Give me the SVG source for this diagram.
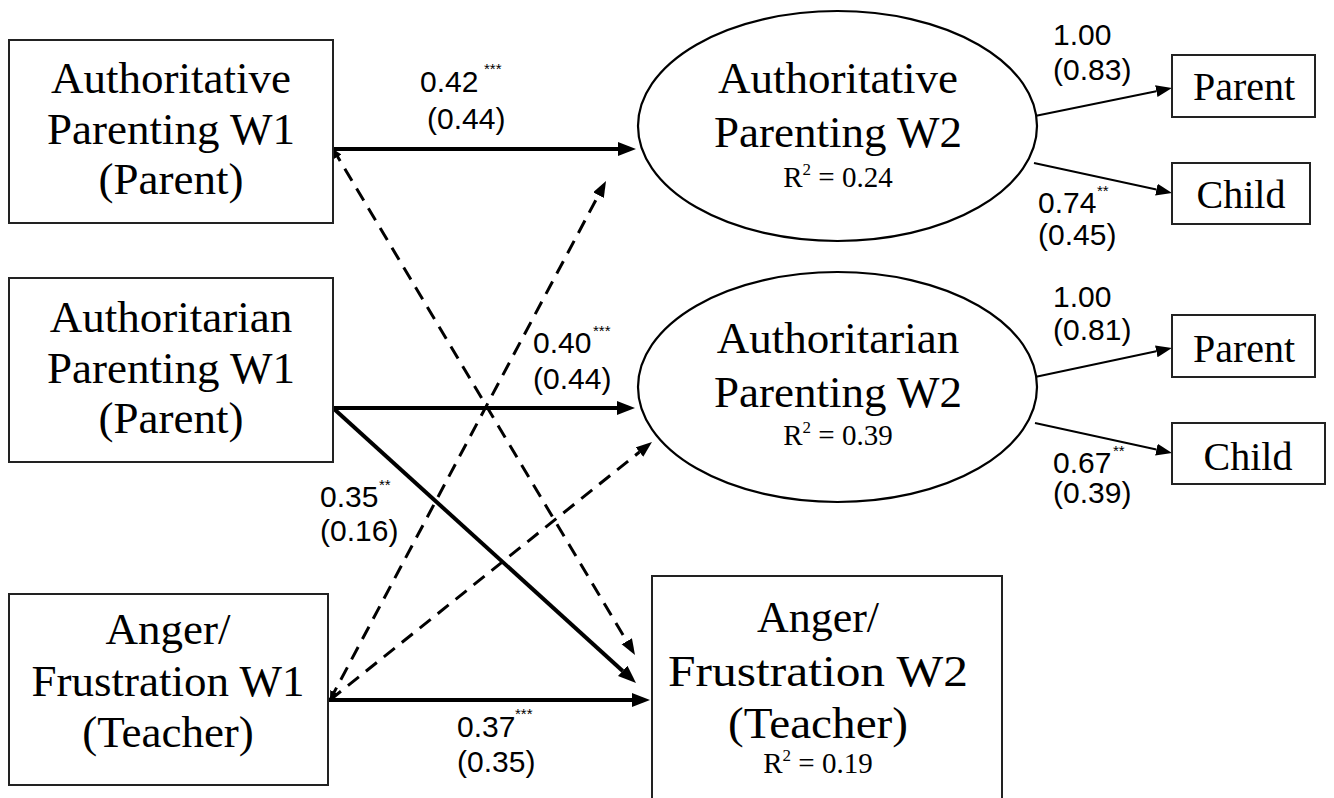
<svg xmlns="http://www.w3.org/2000/svg" width="1334" height="798" viewBox="0 0 1334 798">
<style>
.box{fill:#fff;stroke:#222;stroke-width:2}
.ell{fill:#fff;stroke:#000;stroke-width:2.2}
.t{font-family:"Liberation Serif","Times New Roman",serif;fill:#000;text-anchor:middle}
.big{font-size:45px}
.med{font-size:40px}
.r2{font-size:29px}
.sup{font-size:17px}
.n{font-family:"Liberation Sans",Arial,sans-serif;font-size:30px;fill:#000}
.st{font-family:"Liberation Sans",Arial,sans-serif;font-size:15px;fill:#000}
.solid{stroke:#000;stroke-width:4;fill:none}
.dash{stroke:#000;stroke-width:3;fill:none;stroke-dasharray:14 9}
.thin{stroke:#000;stroke-width:2;fill:none}
</style>
<defs>
<marker id="ah" markerUnits="userSpaceOnUse" markerWidth="20" markerHeight="16" refX="0" refY="7" orient="auto"><path d="M0,0 L18,7 L0,14 z" fill="#000"/></marker>
<marker id="ahd" markerUnits="userSpaceOnUse" markerWidth="18" markerHeight="14" refX="0" refY="6" orient="auto"><path d="M0,0 L16,6 L0,12 z" fill="#000"/></marker>
<marker id="ahs" markerUnits="userSpaceOnUse" markerWidth="12" markerHeight="10" refX="9" refY="4.5" orient="auto-start-reverse"><path d="M0,0 L9,4.5 L0,9 z" fill="#000"/></marker>
<marker id="aht" markerUnits="userSpaceOnUse" markerWidth="18" markerHeight="14" refX="0" refY="6" orient="auto"><path d="M0,0 L16,6 L0,12 z" fill="#000"/></marker>
</defs>

<g id="connectors">
<line class="solid" x1="333" y1="149" x2="618" y2="149" marker-end="url(#ah)"/>
<line class="solid" x1="333" y1="408" x2="617" y2="408" marker-end="url(#ah)"/>
<line class="solid" x1="333" y1="408" x2="622.7" y2="670.9" marker-end="url(#ah)"/>
<line class="solid" x1="328" y1="700" x2="632" y2="700" marker-end="url(#ah)"/>
<line class="dash" x1="333" y1="149" x2="626.8" y2="641.3" marker-end="url(#ahd)" marker-start="url(#ahs)"/>
<line class="dash" x1="330" y1="700" x2="598.5" y2="195.1" marker-end="url(#ahd)" marker-start="url(#ahs)"/>
<line class="dash" x1="330" y1="700" x2="639.5" y2="452" marker-end="url(#ahd)"/>
<line class="thin" x1="1035" y1="116" x2="1156.3" y2="91.2" marker-end="url(#aht)"/>
<line class="thin" x1="1034" y1="163" x2="1156.4" y2="189.6" marker-end="url(#aht)"/>
<line class="thin" x1="1035" y1="377" x2="1156.3" y2="351.3" marker-end="url(#aht)"/>
<line class="thin" x1="1035" y1="423" x2="1156.4" y2="449.6" marker-end="url(#aht)"/>
</g>

<g id="labels">
<text class="n" x="420" y="92">0.42</text><text class="st" x="484" y="74">***</text>
<text class="n" x="427" y="129">(0.44)</text>
<text class="n" x="533" y="353">0.40</text><text class="st" x="593" y="336">***</text>
<text class="n" x="533" y="389">(0.44)</text>
<text class="n" x="320" y="507">0.35</text><text class="st" x="379" y="490">**</text>
<text class="n" x="320" y="541">(0.16)</text>
<text class="n" x="457" y="737">0.37</text><text class="st" x="515" y="719">***</text>
<text class="n" x="457" y="772">(0.35)</text>
<text class="n" x="1053" y="45">1.00</text>
<text class="n" x="1053" y="80">(0.83)</text>
<text class="n" x="1038" y="213">0.74</text><text class="st" x="1097" y="196">**</text>
<text class="n" x="1038" y="245">(0.45)</text>
<text class="n" x="1053" y="307">1.00</text>
<text class="n" x="1053" y="340">(0.81)</text>
<text class="n" x="1053" y="473">0.67</text><text class="st" x="1113" y="456">**</text>
<text class="n" x="1053" y="503">(0.39)</text>
</g>

<g id="authoritative-w1">
<rect class="box" x="9" y="40" width="324" height="183"/>
<text class="t big" x="171" y="93">Authoritative</text>
<text class="t big" x="171" y="144">Parenting W1</text>
<text class="t big" x="171" y="194">(Parent)</text>
</g>

<g id="authoritarian-w1">
<rect class="box" x="9" y="278" width="324" height="184"/>
<text class="t big" x="171" y="332">Authoritarian</text>
<text class="t big" x="171" y="383">Parenting W1</text>
<text class="t big" x="171" y="433">(Parent)</text>
</g>

<g id="anger-w1">
<rect class="box" x="9" y="594" width="319" height="191"/>
<text class="t big" x="168" y="644">Anger/</text>
<text class="t big" x="168" y="696">Frustration W1</text>
<text class="t big" x="168" y="747">(Teacher)</text>
</g>

<g id="authoritative-w2">
<ellipse class="ell" cx="837.5" cy="126" rx="199.5" ry="115"/>
<text class="t big" x="838" y="93">Authoritative</text>
<text class="t big" x="838" y="147">Parenting W2</text>
<text class="t r2" x="838" y="187">R<tspan class="sup" dy="-12">2</tspan><tspan dy="12"> = 0.24</tspan></text>
</g>

<g id="authoritarian-w2">
<ellipse class="ell" cx="837.5" cy="387" rx="199.5" ry="115"/>
<text class="t big" x="838" y="353">Authoritarian</text>
<text class="t big" x="838" y="407">Parenting W2</text>
<text class="t r2" x="838" y="445">R<tspan class="sup" dy="-12">2</tspan><tspan dy="12"> = 0.39</tspan></text>
</g>

<g id="anger-w2">
<rect class="box" x="652" y="576" width="350" height="232"/>
<text class="t big" x="818" y="632" textLength="122" lengthAdjust="spacingAndGlyphs">Anger/</text>
<text class="t big" x="818" y="686" textLength="300" lengthAdjust="spacingAndGlyphs">Frustration W2</text>
<text class="t big" x="818" y="738" textLength="180" lengthAdjust="spacingAndGlyphs">(Teacher)</text>
<text class="t r2" x="818" y="773">R<tspan class="sup" dy="-12">2</tspan><tspan dy="12"> = 0.19</tspan></text>
</g>

<g id="parent1">
<rect class="box" x="1172" y="55" width="143" height="62"/>
<text class="t med" x="1244" y="100">Parent</text>
</g>
<g id="child1">
<rect class="box" x="1172" y="163" width="138" height="61"/>
<text class="t med" x="1241" y="208">Child</text>
</g>
<g id="parent2">
<rect class="box" x="1172" y="315" width="143" height="62"/>
<text class="t med" x="1244" y="362">Parent</text>
</g>
<g id="child2">
<rect class="box" x="1172" y="423" width="153" height="61"/>
<text class="t med" x="1248" y="470">Child</text>
</g>
</svg>
